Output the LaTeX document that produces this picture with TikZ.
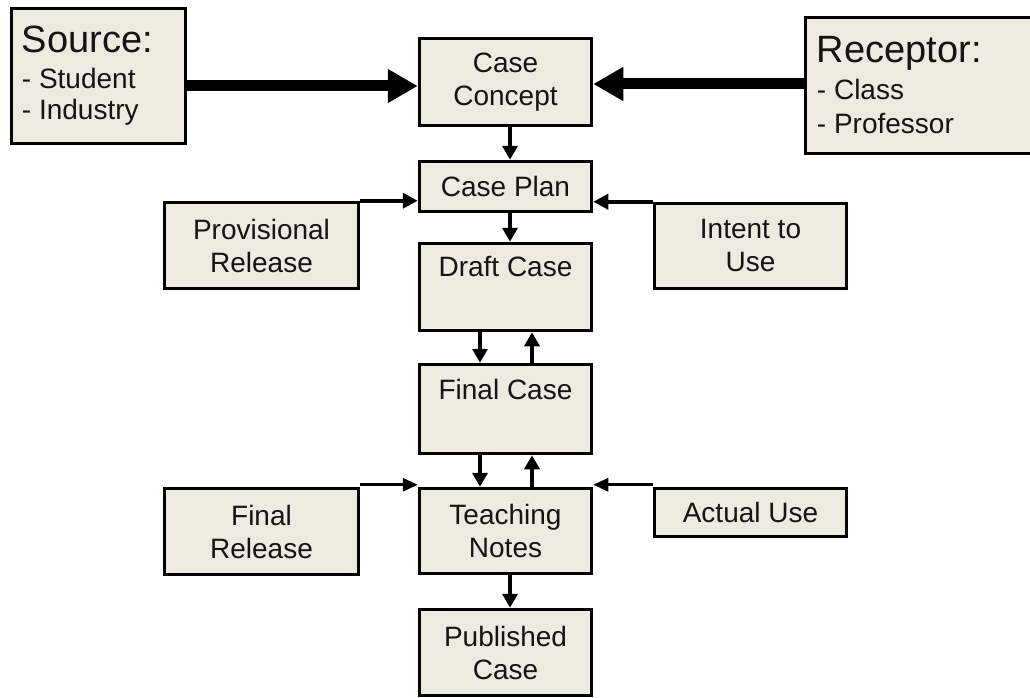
\documentclass[tikz,border=0pt]{standalone}
\usepackage{fontspec}
\setmainfont{Liberation Sans}
\usetikzlibrary{arrows.meta}
\definecolor{boxfill}{RGB}{237,234,223}
\definecolor{ink}{RGB}{20,20,20}
\tikzset{
  box/.style={draw=black, line width=3.5pt, fill=boxfill, inner sep=0pt, text=ink,
    align=center, font=\fontsize{28}{33}\selectfont},
  lbl/.style={inner sep=0pt, text=ink, align=center, font=\fontsize{28}{33}\selectfont},
  listtxt/.style={inner sep=0pt, text=ink, align=left, font=\fontsize{28}{31}\selectfont},
  bigarrow/.style={line width=11pt, -{Triangle[length=30pt,width=32pt]}},
  varrow/.style={line width=4.5pt, -{Triangle[length=14pt,width=15pt]}},
  sidearrow/.style={line width=4pt, -{Triangle[length=15pt,width=15pt]}},
  thinarrow/.style={line width=3pt, -{Triangle[length=15pt,width=13pt]}}
}
\begin{document}
\begin{tikzpicture}[x=1pt,y=-1pt]
\useasboundingbox (0,0) rectangle (1030,698);
% boxes
\node[box, minimum width=174pt, minimum height=135pt] (src) at (98.5,76) {};
\node[listtxt, anchor=west] (srct) at ([xshift=12pt]src.west)
  {{\fontsize{38}{38}\selectfont Source:}\\[5pt]- Student\\- Industry};
\node[box, minimum width=240pt, minimum height=136pt] (rec) at (925.5,85.5) {};
\node[listtxt, anchor=west] (rect) at ([xshift=13pt]rec.west)
  {{\fontsize{38}{38}\selectfont Receptor:}\\[6pt]- Class\\[3pt]- Professor};
\node[box, minimum width=172pt, minimum height=87pt] (concept) at (505.5,82) {Case\\Concept};
\node[box, minimum width=172pt, minimum height=50pt] (plan) at (505.5,186.5) {Case Plan};
\node[box, minimum width=194pt, minimum height=86pt] (prov) at (261.5,245.5) {Provisional\\Release};
\node[box, minimum width=192pt, minimum height=85pt] (intent) at (750.5,246) {Intent to\\Use};
\node[box, minimum width=172pt, minimum height=87pt] (draft) at (505.5,287) {};
\node[lbl] (draftt) at ([yshift=-25pt]draft.north) {Draft Case};
\node[box, minimum width=172pt, minimum height=89pt] (final) at (505.5,409) {};
\node[lbl] (finalt) at ([yshift=-27pt]final.north) {Final Case};
\node[box, minimum width=172pt, minimum height=85pt] (teach) at (505.5,531) {Teaching\\Notes};
\node[box, minimum width=194pt, minimum height=86pt] (frel) at (261.5,531.5) {Final\\Release};
\node[box, minimum width=192pt, minimum height=48pt] (actual) at (750.5,512.5) {Actual Use};
\node[box, minimum width=172pt, minimum height=86pt] (pub) at (505.5,652.5) {Published\\Case};
% connectors
\draw[bigarrow] ([yshift=-10pt]src.east) coordinate (a1) -- (a1 -| concept.west);
\draw[bigarrow] ([yshift=1.5pt]rec.west) coordinate (a2) -- (a2 -| concept.east);
\draw[varrow] ([xshift=4.5pt]concept.south) -- ([xshift=4.5pt]plan.north);
\draw[sidearrow] (prov.north east) -- (prov.north east -| plan.west);
\draw[sidearrow] (intent.north west) -- (intent.north west -| plan.east);
\draw[varrow] ([xshift=4.5pt]plan.south) -- ([xshift=4.5pt]draft.north);
\draw[varrow] ([xshift=-25.5pt]draft.south) -- ([xshift=-25.5pt]final.north);
\draw[varrow] ([xshift=26.5pt]final.north) -- ([xshift=26.5pt]draft.south);
\draw[varrow] ([xshift=-25.5pt]final.south) -- ([xshift=-25.5pt]teach.north);
\draw[varrow] ([xshift=26.5pt]teach.north) -- ([xshift=26.5pt]final.south);
\draw[thinarrow] ([yshift=2pt]frel.north east) coordinate (a3) -- (a3 -| teach.west);
\draw[thinarrow] ([yshift=2pt]actual.north west) coordinate (a4) -- (a4 -| teach.east);
\draw[varrow] ([xshift=4.5pt]teach.south) -- ([xshift=4.5pt]pub.north);
\end{tikzpicture}
\end{document}
